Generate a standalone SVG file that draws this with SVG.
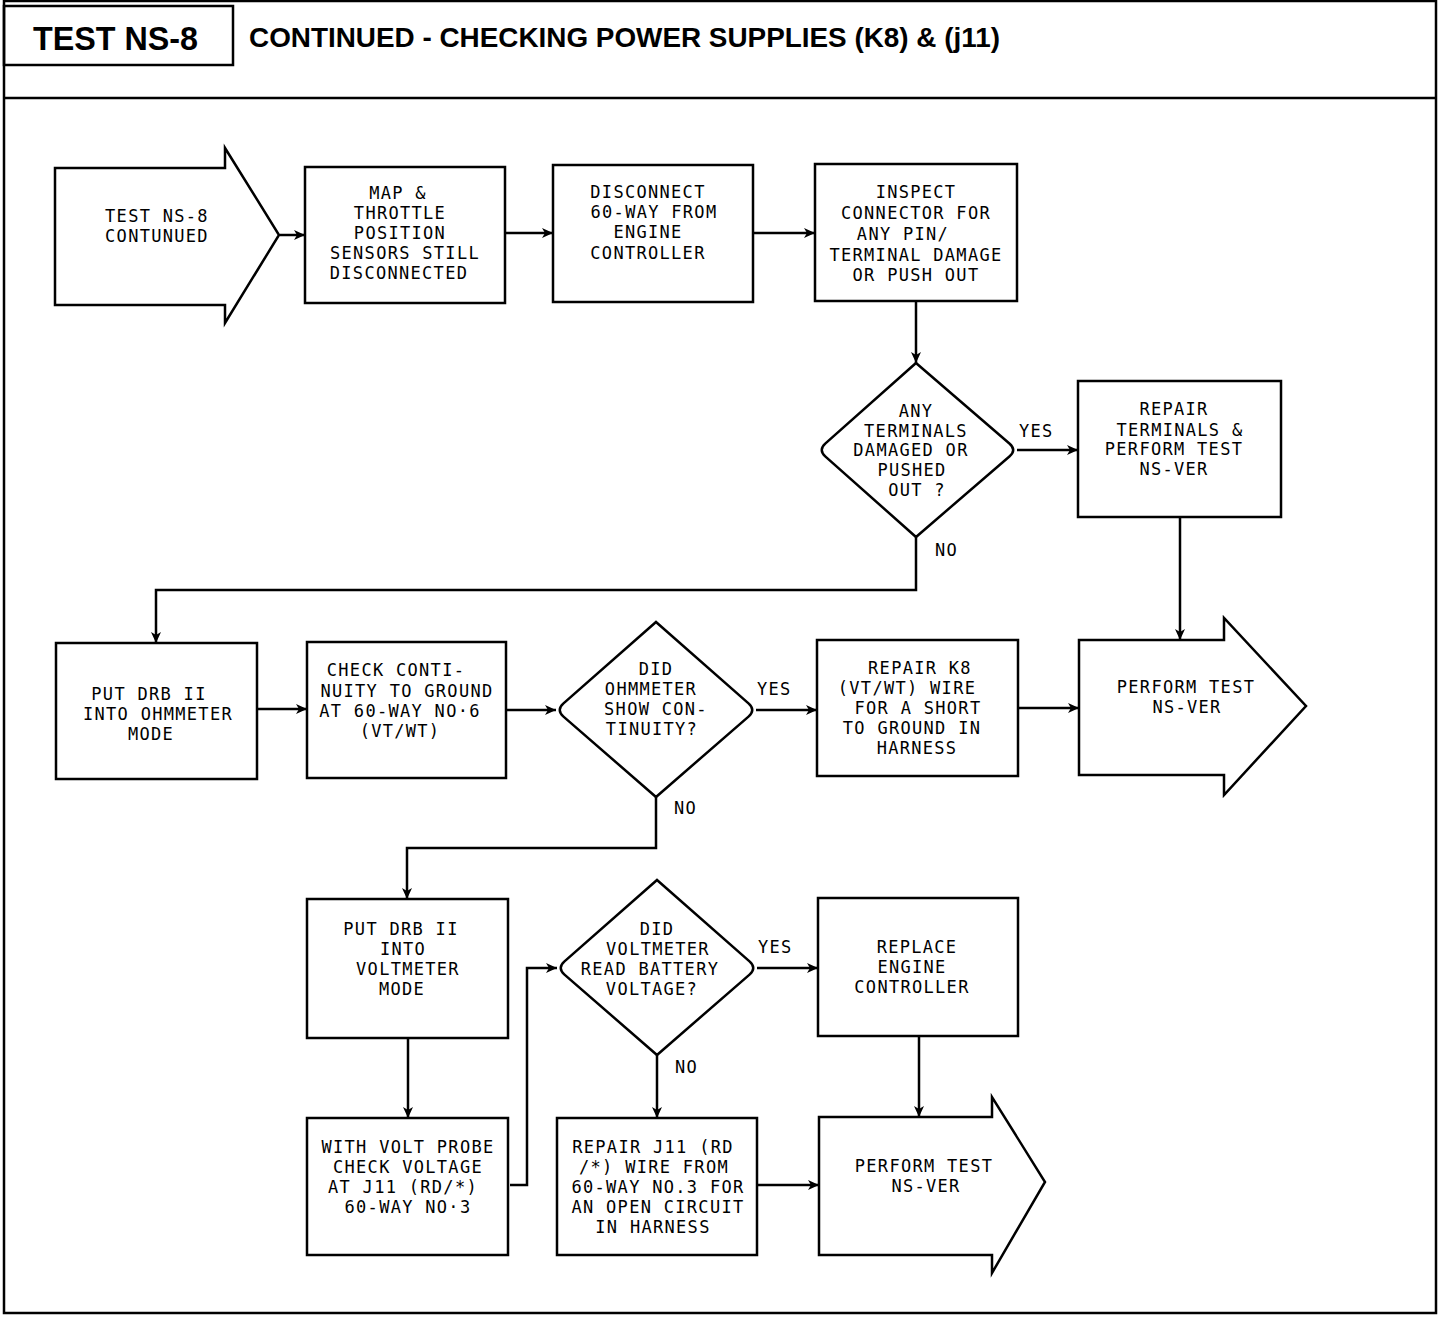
<svg xmlns="http://www.w3.org/2000/svg" width="1456" height="1318" viewBox="0 0 1456 1318">
<style>
.frame{fill:none;stroke:#000;stroke-width:2.5}
.shape{fill:#fff;stroke:#000;stroke-width:2.5}
.conn{fill:none;stroke:#000;stroke-width:2.5}
.t{font-family:"DejaVu Sans Mono","Liberation Mono",monospace;font-size:17px;letter-spacing:1.3px;text-anchor:middle;fill:#000}
.lbl{font-family:"DejaVu Sans Mono","Liberation Mono",monospace;font-size:17px;letter-spacing:1.3px;fill:#000}
.hd{font-family:"Liberation Sans",Arial,sans-serif;font-weight:bold;fill:#000}
</style>
<defs>
<marker id="ah" markerUnits="userSpaceOnUse" markerWidth="12" markerHeight="10" refX="11" refY="5" orient="auto">
<path d="M0,0 L11,5 L0,10 L3,5 Z" fill="#000"/>
</marker>
</defs>
<rect width="1456" height="1318" fill="#fff"/>
<g id="header">
<rect class="frame" x="4" y="1" width="1432" height="1312"/>
<line class="frame" x1="4" y1="98" x2="1436" y2="98"/>
<rect class="frame" x="4" y="6" width="229" height="59"/>
<text class="hd" x="33" y="50" font-size="33" textLength="165" lengthAdjust="spacingAndGlyphs">TEST NS-8</text>
<text class="hd" x="249" y="47" font-size="27" textLength="751" lengthAdjust="spacingAndGlyphs">CONTINUED - CHECKING POWER SUPPLIES (K8) &amp; (j11)</text>
</g>
<g id="connectors">
<path class="conn" marker-end="url(#ah)" d="M280,235 H305"/>
<path class="conn" marker-end="url(#ah)" d="M505,233 H553"/>
<path class="conn" marker-end="url(#ah)" d="M753,233 H815"/>
<path class="conn" marker-end="url(#ah)" d="M916,302 V363"/>
<path class="conn" marker-end="url(#ah)" d="M1017,450 H1078"/>
<path class="conn" marker-end="url(#ah)" d="M916,537 V590 H156 V643"/>
<path class="conn" marker-end="url(#ah)" d="M1180,517 V640"/>
<path class="conn" marker-end="url(#ah)" d="M257,709 H307"/>
<path class="conn" marker-end="url(#ah)" d="M506,710 H556"/>
<path class="conn" marker-end="url(#ah)" d="M756,710 H817"/>
<path class="conn" marker-end="url(#ah)" d="M1018,708 H1079"/>
<path class="conn" marker-end="url(#ah)" d="M656,797 V848 H407 V899"/>
<path class="conn" marker-end="url(#ah)" d="M408,1038 V1118"/>
<path class="conn" marker-end="url(#ah)" d="M510,1185 H527 V968 H557"/>
<path class="conn" marker-end="url(#ah)" d="M757,968 H818"/>
<path class="conn" marker-end="url(#ah)" d="M919,1036 V1117"/>
<path class="conn" marker-end="url(#ah)" d="M657,1055 V1118"/>
<path class="conn" marker-end="url(#ah)" d="M757,1185 H819"/>
<text class="lbl" x="1019" y="437">YES</text>
<text class="lbl" x="935" y="556">NO</text>
<text class="lbl" x="757" y="695">YES</text>
<text class="lbl" x="674" y="814">NO</text>
<text class="lbl" x="758" y="953">YES</text>
<text class="lbl" x="675" y="1073">NO</text>
</g>
<g id="n1">
<path class="shape" d="M55,168 H225 V148 L279,235 L225,323 V305 H55 Z"/>
<text class="t" x="157" y="222">TEST NS-8</text>
<text class="t" x="157" y="242">CONTUNUED</text>
</g>
<g id="n2">
<rect class="shape" x="305" y="167" width="200" height="136"/>
<text class="t" x="398" y="199">MAP &amp;</text>
<text class="t" x="400" y="219">THROTTLE</text>
<text class="t" x="400" y="239">POSITION</text>
<text class="t" x="405" y="259">SENSORS STILL</text>
<text class="t" x="399" y="279">DISCONNECTED</text>
</g>
<g id="n3">
<rect class="shape" x="553" y="165" width="200" height="137"/>
<text class="t" x="648" y="198">DISCONNECT</text>
<text class="t" x="654" y="218">60-WAY FROM</text>
<text class="t" x="648" y="238">ENGINE</text>
<text class="t" x="648" y="259">CONTROLLER</text>
</g>
<g id="n4">
<rect class="shape" x="815" y="164" width="202" height="137"/>
<text class="t" x="916" y="198">INSPECT</text>
<text class="t" x="916" y="219">CONNECTOR FOR</text>
<text class="t" x="903" y="240">ANY PIN/</text>
<text class="t" x="916" y="261">TERMINAL DAMAGE</text>
<text class="t" x="916" y="281">OR PUSH OUT</text>
</g>
<g id="n5">
<path class="shape" d="M916,363 L1009.4,443.5 Q1017,450 1009.4,456.5 L916,537 L825.5,456.6 Q818,450 825.5,443.4 Z"/>
<text class="t" x="916" y="417">ANY</text>
<text class="t" x="916" y="437">TERMINALS</text>
<text class="t" x="911" y="456">DAMAGED OR</text>
<text class="t" x="912" y="476">PUSHED</text>
<text class="t" x="917" y="496">OUT ?</text>
</g>
<g id="n6">
<rect class="shape" x="1078" y="381" width="203" height="136"/>
<text class="t" x="1174" y="415">REPAIR</text>
<text class="t" x="1180" y="436">TERMINALS &amp;</text>
<text class="t" x="1174" y="455">PERFORM TEST</text>
<text class="t" x="1174" y="475">NS-VER</text>
</g>
<g id="n7">
<rect class="shape" x="56" y="643" width="201" height="136"/>
<text class="t" x="149" y="700">PUT DRB II</text>
<text class="t" x="158" y="720">INTO OHMMETER</text>
<text class="t" x="151" y="740">MODE</text>
</g>
<g id="n8">
<rect class="shape" x="307" y="642" width="199" height="136"/>
<text class="t" x="396" y="676">CHECK CONTI-</text>
<text class="t" x="407" y="697">NUITY TO GROUND</text>
<text class="t" x="400" y="717">AT 60-WAY NO·6</text>
<text class="t" x="400" y="737">(VT/WT)</text>
</g>
<g id="n9">
<path class="shape" d="M656,622 L748.5,703.4 Q756,710 748.5,716.6 L656,797 L563.5,716.6 Q556,710 563.5,703.4 Z"/>
<text class="t" x="656" y="675">DID</text>
<text class="t" x="651" y="695">OHMMETER</text>
<text class="t" x="656" y="715">SHOW CON-</text>
<text class="t" x="652" y="735">TINUITY?</text>
</g>
<g id="n10">
<rect class="shape" x="817" y="640" width="201" height="136"/>
<text class="t" x="920" y="674">REPAIR K8</text>
<text class="t" x="907" y="694">(VT/WT) WIRE</text>
<text class="t" x="918" y="714">FOR A SHORT</text>
<text class="t" x="912" y="734">TO GROUND IN</text>
<text class="t" x="917" y="754">HARNESS</text>
</g>
<g id="n11">
<path class="shape" d="M1079,640 H1224 V618 L1306,706 L1224,795 V775 H1079 Z"/>
<text class="t" x="1186" y="693">PERFORM TEST</text>
<text class="t" x="1187" y="713">NS-VER</text>
</g>
<g id="n12">
<rect class="shape" x="307" y="899" width="201" height="139"/>
<text class="t" x="401" y="935">PUT DRB II</text>
<text class="t" x="403" y="955">INTO</text>
<text class="t" x="408" y="975">VOLTMETER</text>
<text class="t" x="402" y="995">MODE</text>
</g>
<g id="n13">
<path class="shape" d="M657,880 L749.5,961.4 Q757,968 749.5,974.6 L657,1055 L564.5,974.6 Q557,968 564.5,961.4 Z"/>
<text class="t" x="657" y="935">DID</text>
<text class="t" x="658" y="955">VOLTMETER</text>
<text class="t" x="650" y="975">READ BATTERY</text>
<text class="t" x="652" y="995">VOLTAGE?</text>
</g>
<g id="n14">
<rect class="shape" x="818" y="898" width="200" height="138"/>
<text class="t" x="917" y="953">REPLACE</text>
<text class="t" x="912" y="973">ENGINE</text>
<text class="t" x="912" y="993">CONTROLLER</text>
</g>
<g id="n15">
<rect class="shape" x="307" y="1118" width="201" height="137"/>
<text class="t" x="408" y="1153">WITH VOLT PROBE</text>
<text class="t" x="408" y="1173">CHECK VOLTAGE</text>
<text class="t" x="403" y="1193">AT J11 (RD/*)</text>
<text class="t" x="408" y="1213">60-WAY NO·3</text>
</g>
<g id="n16">
<rect class="shape" x="557" y="1118" width="200" height="137"/>
<text class="t" x="653" y="1153">REPAIR J11 (RD</text>
<text class="t" x="654" y="1173">/*) WIRE FROM</text>
<text class="t" x="658" y="1193">60-WAY NO.3 FOR</text>
<text class="t" x="658" y="1213">AN OPEN CIRCUIT</text>
<text class="t" x="653" y="1233">IN HARNESS</text>
</g>
<g id="n17">
<path class="shape" d="M819,1117 H992 V1097 L1045,1182 L992,1273 V1255 H819 Z"/>
<text class="t" x="924" y="1172">PERFORM TEST</text>
<text class="t" x="926" y="1192">NS-VER</text>
</g>
</svg>
